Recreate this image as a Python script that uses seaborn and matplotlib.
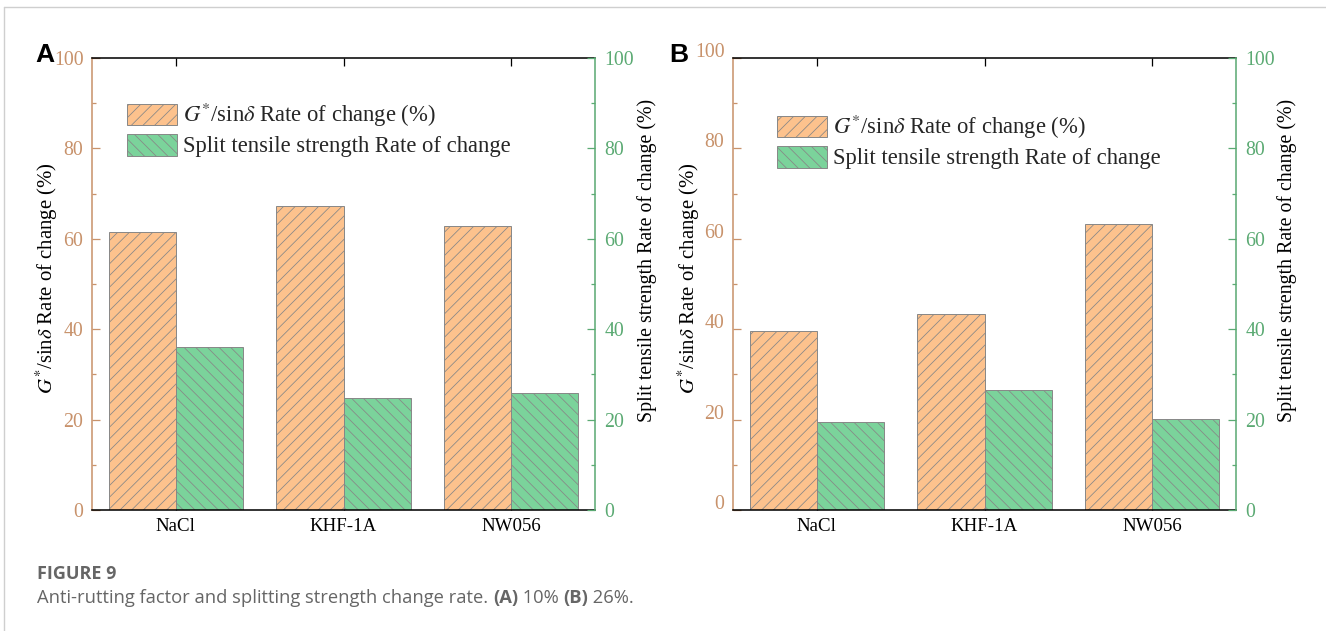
import matplotlib
matplotlib.use("Agg")
import matplotlib.pyplot as plt
import matplotlib.transforms as mtransforms
from matplotlib.patches import Patch
from matplotlib.lines import Line2D
from matplotlib.ticker import MultipleLocator
import seaborn as sns
import pandas as pd

# ---------------- data ----------------
categories = ["NaCl", "KHF-1A", "NW056"]
series_names = ["G*/sin\u03b4 Rate of change (%)", "Split tensile strength Rate of change"]
a_gsin = [61.5, 67.3, 62.8]
a_split = [36.1, 24.8, 25.9]
b_gsin = [39.6, 43.4, 63.3]
b_split = [19.5, 26.5, 20.1]
y_ticks = [0, 20, 40, 60, 80, 100]

# ---------------- style ----------------
sns.set_style("ticks")
plt.rcParams["font.family"] = ["Liberation Serif", "DejaVu Serif"]
plt.rcParams["mathtext.fontset"] = "stix"
plt.rcParams["hatch.linewidth"] = 0.8

DPI = 70
K = 72.0 / DPI  # px -> pt
W, H = 1326, 631

ORANGE = "#FDC28D"
GREEN = "#7BD39B"
EDGE = "#878787"
TAN = "#C8926B"
GRN_AX = "#5BAA73"

TICK_PX = 21
LABEL_L_PX = 22
LABEL_R_PX = 21
CAT_PX = 20
LEG_PX = 24

fig = plt.figure(figsize=(W / DPI, H / DPI), dpi=DPI)

legend_labels = [r"$G^{*}$/sin$\delta$ Rate of change (%)",
                 "Split tensile strength Rate of change"]
ylabel_left = r"$G^{*}$/sin$\delta$ Rate of change (%)"
ylabel_right = "Split tensile strength Rate of change (%)"


def make_panel(left_px, gvals, svals, legend_xy, letter, letter_xy,
               shift_left_labels, lab_left_x, lab_right_x):
    ax = fig.add_axes([left_px / W, (H - 510) / H, 503 / W, 452 / H])
    df = pd.DataFrame({
        "category": categories * 2,
        "value": list(gvals) + list(svals),
        "series": [series_names[0]] * 3 + [series_names[1]] * 3,
    })
    sns.barplot(data=df, x="category", y="value", hue="series",
                palette=[ORANGE, GREEN], saturation=1, width=0.8,
                edgecolor=EDGE, linewidth=1.0, legend=False, ax=ax,
                errorbar=None)
    hatches = ["//", "\\\\"]
    for cont, h in zip(ax.containers, hatches):
        for bar in cont:
            bar.set_hatch(h)
            bar.set_edgecolor(EDGE)
    ax.set_xlim(-0.5, 2.5)
    ax.set_ylim(0, 100)
    ax.set_xlabel("")
    ax.set_ylabel(ylabel_left, fontsize=LABEL_L_PX / K, color="black")
    ax.set_yticks(y_ticks)
    ax.yaxis.set_minor_locator(MultipleLocator(10))
    ax.tick_params(axis="y", which="both", direction="in", colors=TAN,
                   labelsize=TICK_PX / K, pad=9 / K, left=True, right=False)
    ax.tick_params(axis="y", which="major", length=8 / K, width=1.3)
    ax.tick_params(axis="y", which="minor", length=4 / K, width=1.3)
    ax.tick_params(axis="x", which="major", direction="in", top=True, bottom=True,
                   length=8 / K, width=1.3, colors="black", labelsize=CAT_PX / K,
                   pad=8 / K)
    ax.tick_params(axis="x", which="minor", top=False, bottom=False)
    ax.spines["left"].set_color(TAN)
    ax.spines["right"].set_visible(False)
    for s in ["left", "top", "bottom"]:
        ax.spines[s].set_linewidth(1.6)
    ax.spines["top"].set_color("black")
    ax.spines["bottom"].set_color("black")
    ax.yaxis.label.set_color("black")
    ax.yaxis.set_label_coords(lab_left_x, 0.513)

    if shift_left_labels:
        off = mtransforms.ScaledTranslation(0, 8 / DPI, fig.dpi_scale_trans)
        for lab in ax.get_yticklabels():
            lab.set_transform(lab.get_transform() + off)

    ax2 = ax.twinx()
    ax2.set_ylim(0, 100)
    ax2.set_yticks(y_ticks)
    ax2.yaxis.set_minor_locator(MultipleLocator(10))
    ax2.tick_params(axis="y", which="both", direction="in", colors=GRN_AX,
                    labelsize=TICK_PX / K, pad=10 / K)
    ax2.tick_params(axis="y", which="major", length=8 / K, width=1.3)
    ax2.tick_params(axis="y", which="minor", length=4 / K, width=1.3)
    for s in ["left", "top", "bottom"]:
        ax2.spines[s].set_visible(False)
    ax2.spines["right"].set_color(GRN_AX)
    ax2.spines["right"].set_linewidth(1.6)
    ax2.set_ylabel(ylabel_right, fontsize=LABEL_R_PX / K, color="black")
    ax2.yaxis.set_label_coords(lab_right_x, 0.553)

    handles = [Patch(facecolor=ORANGE, edgecolor=EDGE, hatch="//", linewidth=1.0),
               Patch(facecolor=GREEN, edgecolor=EDGE, hatch="\\\\", linewidth=1.0)]
    fig.legend(handles, legend_labels, loc="upper left",
               bbox_to_anchor=(legend_xy[0] / W, 1 - legend_xy[1] / H),
               frameon=False, fontsize=LEG_PX / K, handlelength=2.2,
               handleheight=1.1, handletextpad=0.25, labelspacing=0.2,
               borderpad=0, borderaxespad=0)

    fig.text(letter_xy[0] / W, 1 - letter_xy[1] / H, letter,
             family="Liberation Sans", fontweight="bold", fontsize=28 / K,
             ha="left", va="baseline", color="black")
    return ax


make_panel(92, a_gsin, a_split, (127, 101), "A", (35, 62), False, -0.0636, 1.0835)
make_panel(733, b_gsin, b_split, (777, 113), "B", (669, 62), True, -0.0616, 1.0815)

# border lines of the page frame
fig.add_artist(Line2D([4 / W, 4 / W], [0, 1 - 7 / H], transform=fig.transFigure,
                      color="#CFCFCF", lw=1.4 * K))
fig.add_artist(Line2D([4 / W, 1], [1 - 7 / H, 1 - 7 / H], transform=fig.transFigure,
                      color="#CFCFCF", lw=1.4 * K))

# caption
CAP = "#666666"
CAP_FONT = "Open Sans"
fig.text(37 / W, 1 - 574 / H, "FIGURE 9", family=CAP_FONT, fontweight="bold",
         fontsize=19 / K, color=CAP, ha="left", va="center")

fig.canvas.draw()
renderer = fig.canvas.get_renderer()
pieces = [("Anti-rutting factor and splitting strength change rate. ", "normal"),
          ("(A)", "bold"), (" 10% ", "normal"), ("(B)", "bold"), (" 26%.", "normal")]
x = 37
for txt, wt in pieces:
    t = fig.text(x / W, 1 - 598 / H, txt, family=CAP_FONT, fontweight=wt,
                 fontsize=19.5 / K, color=CAP, ha="left", va="center")
    bb = t.get_window_extent(renderer)
    x += bb.width

fig.savefig("out.png", dpi=DPI)
